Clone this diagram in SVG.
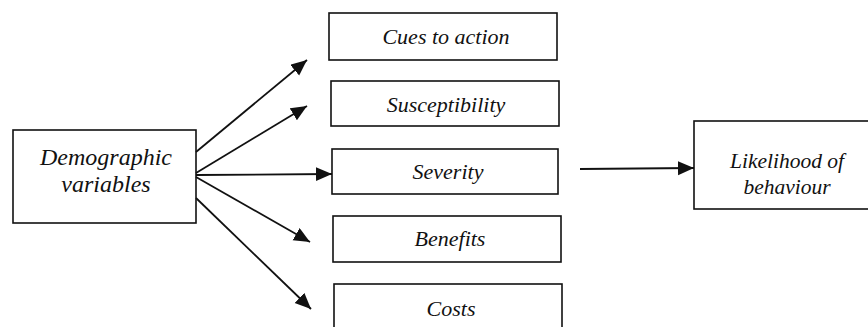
<svg xmlns="http://www.w3.org/2000/svg" width="868" height="327" viewBox="0 0 868 327">
<style>
.box{fill:#fff;stroke:#111;stroke-width:1.6}
text{font-family:'Liberation Serif','DejaVu Serif',serif;font-style:italic;font-size:22px;fill:#111;text-anchor:middle}
.big{font-size:24px}
.mid{font-size:21.5px}
.conn{stroke:#111;stroke-width:1.8;fill:none}
</style>
<defs>
<marker id="ah" markerUnits="userSpaceOnUse" markerWidth="17" markerHeight="15" refX="16" refY="7" orient="auto">
<path d="M0,0 L16,7 L0,14 Z" fill="#111"/>
</marker>
</defs>
<rect width="868" height="327" fill="#fff"/>
<g id="demographic">
<rect class="box" x="13" y="130" width="183" height="93"/>
<text class="big" x="106" y="165" font-family="Liberation Serif">Demographic</text>
<text class="big" x="106" y="192" font-family="Liberation Serif">variables</text>
</g>
<g id="cues">
<rect class="box" x="329" y="13" width="228" height="47"/>
<text x="446" y="44" font-family="Liberation Serif">Cues to action</text>
</g>
<g id="susceptibility">
<rect class="box" x="331" y="81" width="228" height="45"/>
<text x="446" y="112" font-family="Liberation Serif">Susceptibility</text>
</g>
<g id="severity">
<rect class="box" x="332" y="149" width="226" height="45"/>
<text x="448" y="179" font-family="Liberation Serif">Severity</text>
</g>
<g id="benefits">
<rect class="box" x="333" y="216" width="228" height="46"/>
<text x="450" y="246" font-family="Liberation Serif">Benefits</text>
</g>
<g id="costs">
<rect class="box" x="334" y="284" width="228" height="60"/>
<text x="451" y="316" font-family="Liberation Serif">Costs</text>
</g>
<g id="likelihood">
<rect class="box" x="694" y="121" width="200" height="88"/>
<text class="mid" x="787" y="168" font-family="Liberation Serif">Likelihood of</text>
<text class="mid" x="787" y="194" font-family="Liberation Serif">behaviour</text>
</g>
<g id="connectors">
<line class="conn" x1="196" y1="152" x2="307" y2="60" marker-end="url(#ah)"/>
<line class="conn" x1="196" y1="173" x2="307" y2="106" marker-end="url(#ah)"/>
<line class="conn" x1="196" y1="175" x2="332" y2="174" marker-end="url(#ah)"/>
<line class="conn" x1="196" y1="177" x2="310" y2="242" marker-end="url(#ah)"/>
<line class="conn" x1="196" y1="198" x2="311" y2="309" marker-end="url(#ah)"/>
<line class="conn" x1="580" y1="169" x2="694" y2="168" stroke-width="2.2" marker-end="url(#ah)"/>
</g>
</svg>
